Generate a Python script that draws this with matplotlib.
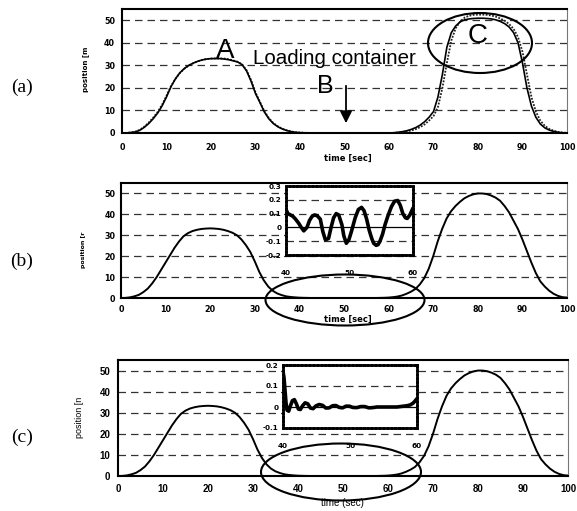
import matplotlib
matplotlib.use("Agg")
import matplotlib.pyplot as plt
from matplotlib.patches import Ellipse
import numpy as np

# ── data ─────────────────────────────────────────────────────────────────────
t = np.arange(0, 101)

# (a) measured (solid) and reference (dotted) position
pos_a_solid = [
    0, 0.05, 0.2, 0.5, 1.2, 2.5, 4.2, 6.3, 8.8, 12, 16, 20.5, 24, 26.7, 28.6,
    30, 31, 31.8, 32.4, 32.8, 33, 33, 33, 32.8, 32.5, 32, 31.5, 30.3, 27.5, 23,
    17.5, 13.5, 9.3, 6.3, 4.2, 2.8, 1.8, 1.1, 0.6, 0.3, 0.15, 0.08, 0.03,
    0, 0, 0, 0, 0, 0, 0, 0, 0, 0, 0, 0, 0, 0, 0, 0, 0, 0,
    0.1, 0.3, 0.6, 1, 1.6, 2.4, 3.5, 5, 7, 9.5, 16, 26, 38, 44.5, 47.5, 49.3,
    50.2, 50.6, 50.8, 50.9, 50.9, 50.8, 50.6, 50.2, 49.5, 48.5, 47, 44.5, 40,
    31, 20, 12, 7, 4, 2.3, 1.3, 0.7, 0.3, 0.1, 0,
]
pos_a_dotted = [
    0, 0.05, 0.25, 0.6, 1.4, 2.8, 4.6, 6.8, 9.3, 12.5, 16.5, 20.8, 24, 26.6,
    28.5, 29.9, 30.9, 31.8, 32.4, 32.8, 33, 33.1, 33.1, 33, 32.7, 32.2, 31.6,
    30.4, 27.8, 23.5, 18, 13.8, 9.6, 6.6, 4.4, 3, 1.9, 1.2, 0.7, 0.35, 0.2,
    0.1, 0.05,
    0, 0, 0, 0, 0, 0, 0, 0, 0, 0, 0, 0, 0, 0, 0, 0, 0, 0,
    0.05, 0.2, 0.4, 0.7, 1.1, 1.7, 2.6, 3.8, 5.5, 7.5, 11.5, 20, 31, 41, 46.5,
    49.5, 51.2, 52, 52.4, 52.5, 52.5, 52.4, 52.1, 51.6, 50.8, 49.8, 48.3, 46.2,
    42.5, 36, 26, 16, 9.5, 5.5, 3.2, 1.8, 1, 0.5, 0.2, 0.1,
]
# (b), (c) position
pos_bc = [
    0, 0.05, 0.3, 0.8, 1.5, 2.8, 4.5, 7, 10, 13.5, 17, 20.5, 24, 27, 29.5, 31,
    32, 32.6, 33, 33.2, 33.3, 33.2, 33, 32.6, 32, 31.2, 30, 28, 25.3, 22, 17.5,
    12.5, 8.5, 5.5, 3.5, 2.2, 1.4, 0.8, 0.5, 0.3, 0.15, 0.08, 0.03,
    0, 0, 0, 0, 0, 0, 0, 0, 0, 0, 0, 0, 0, 0, 0,
    0.05, 0.1, 0.2, 0.4, 0.7, 1.2, 2, 3, 4.3, 6.5, 9.5, 14, 20, 27, 33, 38,
    41.5, 44, 46, 47.7, 48.8, 49.6, 50, 50, 49.7, 49, 48, 46.5, 44, 41, 37, 33,
    28, 22.5, 17, 12, 8, 5.5, 3.5, 2, 1, 0.4, 0.2,
]

# inset (b): error between 40 and 60 s
t_in_b = [40.0, 40.3, 40.7, 41.1, 41.5, 42.0, 42.4, 42.8, 43.3, 43.7, 44.1,
          44.5, 44.9, 45.4, 45.8, 46.2, 46.7, 47.1, 47.5, 47.9, 48.3, 48.8,
          49.1, 49.5, 49.9, 50.3, 50.9, 51.4, 51.9, 52.3, 52.7, 53.1, 53.5,
          53.8, 54.2, 54.5, 54.8, 55.2, 55.6, 56.1, 56.6, 57.1, 57.6, 58.0,
          58.4, 58.8, 59.1, 59.5, 59.8, 60.0]
err_in_b = [0.13, 0.10, 0.09, 0.08, 0.06, 0.03, 0.0, -0.025, 0.0, 0.05, 0.08,
            0.09, 0.085, 0.06, -0.03, -0.09, -0.08, 0.0, 0.07, 0.10, 0.09, 0.02,
            -0.06, -0.115, -0.09, -0.03, 0.07, 0.13, 0.145, 0.12, 0.06, -0.02,
            -0.08, -0.115, -0.13, -0.125, -0.10, -0.05, 0.02, 0.09, 0.15, 0.19,
            0.195, 0.16, 0.10, 0.07, 0.065, 0.09, 0.12, 0.14]

# inset (c)
t_in_c = [40.0, 40.15, 40.3, 40.45, 40.6, 40.85, 41.1, 41.4, 41.7, 42.0, 42.3,
          42.6, 42.9, 43.3, 43.7, 44.1, 44.5, 44.9, 45.4, 45.9, 46.4, 46.9,
          47.4, 47.9, 48.4, 48.9, 49.4, 49.9, 50.4, 51.0, 51.6, 52.2, 52.8,
          53.4, 54.0, 55.0, 56.0, 57.0, 57.5, 58.0, 58.5, 59.0, 59.4, 59.7,
          60.0]
err_in_c = [0.17, 0.14, 0.08, 0.02, -0.015, -0.02, 0.005, 0.03, 0.035, 0.015,
            -0.01, -0.012, 0.005, 0.02, 0.015, -0.005, -0.008, 0.005, 0.012,
            0.008, -0.005, -0.004, 0.006, 0.007, -0.002, -0.004, 0.004, 0.004,
            -0.002, -0.003, 0.002, 0.002, -0.004, -0.003, 0.0, 0.0, 0.0, 0.0,
            0.002, 0.004, 0.006, 0.01, 0.018, 0.028, 0.04]

main_yticks = [0, 10, 20, 30, 40, 50]
main_xticks = [0, 10, 20, 30, 40, 50, 60, 70, 80, 90, 100]
in_b_yticks = [-0.2, -0.1, 0, 0.1, 0.2, 0.3]
in_b_ylabels = ["-0.2", "-0.1", "0", "0.1", "0.2", "0.3"]
in_c_yticks = [-0.1, 0, 0.1, 0.2]
in_c_ylabels = ["-0.1", "0", "0.1", "0.2"]
in_xticks = [40, 50, 60]

# ── figure ───────────────────────────────────────────────────────────────────
W, H = 577, 511
fig = plt.figure(figsize=(W / 100, H / 100), dpi=100)
fig.patch.set_facecolor("white")

def rect(l, t_, r, b):
    return [l / W, 1 - b / H, (r - l) / W, (b - t_) / H]

DASH = (0, (6, 4))

def main_axes(box, tick_font, tick_size, xpad, ypad):
    ax = fig.add_axes(rect(*box))
    ax.set_xlim(0, 100)
    ax.set_ylim(0, 55)
    ax.set_xticks(main_xticks)
    ax.set_yticks(main_yticks)
    for yv in main_yticks[1:]:
        ax.axhline(yv, color="#333333", lw=0.9, ls=DASH, zorder=1)
    for s in ("left", "bottom", "top"):
        ax.spines[s].set_linewidth(1.5)
    ax.spines["right"].set_linewidth(0.8)
    ax.spines["right"].set_color("#777777")
    ax.tick_params(length=0)
    ax.tick_params(axis="x", pad=xpad)
    ax.tick_params(axis="y", pad=ypad)
    for lab in ax.get_xticklabels() + ax.get_yticklabels():
        lab.set_fontfamily(tick_font)
        lab.set_fontsize(tick_size)
        lab.set_fontweight("bold")
    return ax

ax_a = main_axes((122, 9, 567, 133), "DejaVu Sans", 5.8, 7, 5)
ax_a.plot(t, pos_a_dotted, color="#222222", lw=1.3, ls=(0, (1, 0.8)), zorder=3)
ax_a.plot(t, pos_a_solid, color="black", lw=1.2, zorder=4)

ax_b = main_axes((121, 183, 567, 298), "DejaVu Sans", 5.8, 5, 4)
ax_b.plot(t, pos_bc, color="black", lw=1.4, zorder=3)

ax_c = main_axes((118, 360, 568, 476), "Liberation Sans", 7, 6, 5.5)
ax_c.plot(t, pos_bc, color="black", lw=1.4, zorder=3)

# ── insets ───────────────────────────────────────────────────────────────────
def inset(box, ylim, yticks, ylabels, dashed, xs, ys):
    ax = fig.add_axes(rect(*box))
    ax.set_facecolor("white")
    ax.set_xlim(40, 60)
    ax.set_ylim(*ylim)
    ax.set_xticks(in_xticks)
    ax.set_yticks(yticks)
    ax.set_yticklabels(ylabels)
    for yv in dashed:
        ax.axhline(yv, color="#333333", lw=0.9, ls=DASH, zorder=1)
    ax.axhline(0, color="black", lw=0.9, zorder=2)
    ax.plot(xs, ys, color="black", lw=2.6, solid_capstyle="round", zorder=3)
    for s in ax.spines.values():
        s.set_linewidth(2.0)
        s.set_linestyle((0, (0.9, 0.5)))
    ax.tick_params(length=0, labelsize=5.2, pad=3)
    ax.tick_params(axis="x", pad=11)
    for lab in ax.get_xticklabels() + ax.get_yticklabels():
        lab.set_fontweight("bold")
    ax.set_zorder(5)
    return ax

inset((286, 186, 413, 255), (-0.2, 0.3), in_b_yticks, in_b_ylabels,
      [0.2, 0.1, -0.1], t_in_b, err_in_b)
inset((283, 365, 417, 428), (-0.1, 0.2), in_c_yticks, in_c_ylabels,
      [0.1], t_in_c, err_in_c)

# ── overlay: labels, annotations, ellipses (pixel coords) ───────────────────
ov = fig.add_axes([0, 0, 1, 1])
ov.set_xlim(0, W)
ov.set_ylim(H, 0)
ov.axis("off")
ov.set_zorder(10)
ov.patch.set_alpha(0)

serif = "Liberation Serif"
sans = "Liberation Sans"
for lab, y in (("(a)", 87), ("(b)", 261), ("(c)", 437)):
    ov.text(22, y, lab, family=serif, fontsize=14, ha="center", va="center")

# axis titles
ov.text(86, 69, "position [m", rotation=90, fontsize=5, ha="center",
        va="center", fontweight="bold")
ov.text(83, 250, "position [r", rotation=90, fontsize=4.5, ha="center",
        va="center", fontweight="bold")
ov.text(80, 417, "position [n", rotation=90, fontsize=6.5, family=sans,
        ha="center", va="center")
ov.text(348, 158, "time [sec]", fontsize=6, ha="center", va="center",
        fontweight="bold")
ov.text(348, 319, "time [sec]", fontsize=6, ha="center", va="center",
        fontweight="bold")
ov.text(342, 503, "time (sec)", fontsize=7, family=sans, ha="center",
        va="center")

# annotations on (a)
ov.text(225, 51, "A", family=sans, fontsize=20, ha="center", va="center")
ov.text(253, 59, "Loading container", family=sans, fontsize=14.8, ha="left",
        va="center")
ov.text(325, 86, "B", family=sans, fontsize=18, ha="center", va="center")
ov.annotate("", xy=(346, 126), xytext=(346, 83),
            arrowprops=dict(arrowstyle="-|>", color="black", lw=1.3,
                            mutation_scale=18))
ov.text(478, 36, "C", family=sans, fontsize=20, ha="center", va="center")

for cx, cy, w, h in ((480, 43, 104, 60), (345, 300, 159, 51),
                     (341, 472, 160, 57)):
    ov.add_patch(Ellipse((cx, cy), w, h, fill=False, ec="black", lw=1.5))

fig.savefig("out.png", dpi=100)
